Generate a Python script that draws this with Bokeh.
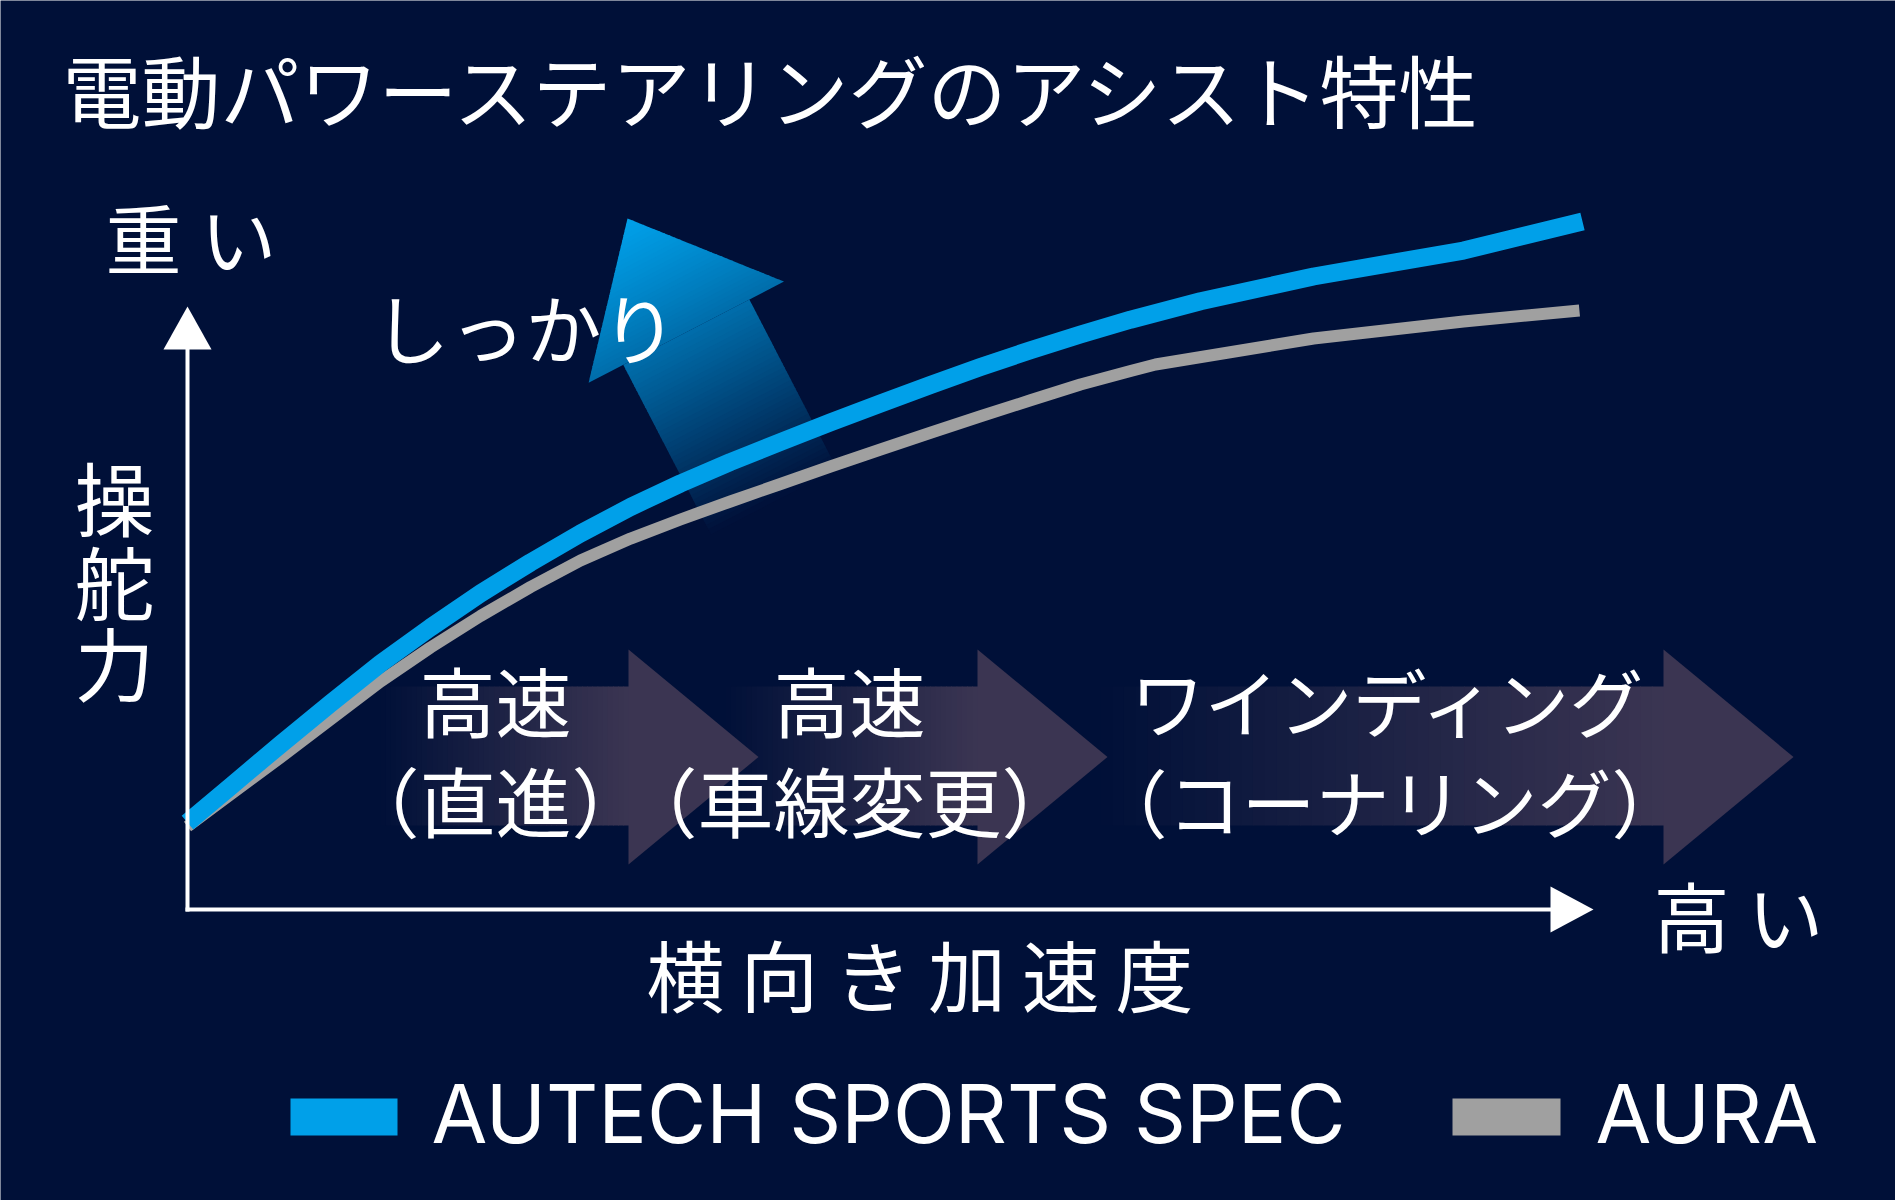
import numpy as np
from bokeh.plotting import figure
from bokeh.models import Range1d
from bokeh.core.properties import value
from bokeh.embed import file_html
from bokeh.resources import INLINE

# ---------------- data (x: lateral acceleration, y: steering force, 0-100 scale) -------------
autech_x = [0.0, 3.08, 6.67, 10.25, 13.84, 17.42, 21.0, 24.59, 28.17, 31.76, 35.34, 38.92,
            42.51, 46.09, 49.68, 53.26, 56.85, 60.43, 64.01, 67.6, 72.62, 80.72, 91.47, 100.0]
autech_y = [12.66, 17.90, 24.02, 29.99, 35.81, 41.05, 46.00, 50.51, 54.73, 58.59, 62.01, 65.14,
            68.05, 70.89, 73.65, 76.35, 78.97, 81.41, 83.70, 85.85, 88.54, 92.14, 95.92, 100.15]
aura_x = [0.0, 3.08, 6.67, 10.25, 13.84, 17.42, 21.0, 24.59, 28.17, 31.76, 35.34, 38.92,
          42.51, 46.09, 49.68, 53.26, 56.85, 60.43, 64.01, 67.6, 69.39, 80.72, 91.47, 99.78]
aura_y = [12.08, 16.74, 22.13, 27.66, 33.19, 38.14, 42.72, 46.94, 50.80, 54.00, 56.77, 59.39,
          61.94, 64.48, 66.96, 69.40, 71.79, 74.12, 76.42, 78.38, 79.33, 83.11, 85.59, 87.19]
series_names = ["AUTECH SPORTS SPEC", "AURA"]
zone_top = ["高速", "高速", "ワインディング"]
zone_bottom = ["（直進）", "（車線変更）", "（コーナリング）"]
title_text = "電動パワーステアリングのアシスト特性"
y_label = "操舵力"
x_label = "横向き加速度"
y_high = "重い"
x_high = "高い"
firm_label = "しっかり"

# ---------------- colours ----------------
BG = "#001038"
BLUE = "#00a0e9"
GREY = "#a0a0a0"
ARW = "#3b3552"
WHITE = "#ffffff"

# ---------------- page geometry (image pixel space -> data space) ----------------
W, H = 1895, 1200
OX, OY = 187.0, 909.0          # pixel position of the data origin
SX = (1582.0 - OX) / 100.0     # pixels per x unit
SY = (OY - 222.0) / 100.0      # pixels per y unit


def dx(px):
    return ((np.asarray(px, float) - OX) / SX).tolist()


def dy(py):
    return ((OY - np.asarray(py, float)) / SY).tolist()


def hex2rgb(h):
    h = h.lstrip("#")
    return np.array([int(h[i:i + 2], 16) for i in (0, 2, 4)], float)


def mix(c1, c2, t):
    r = hex2rgb(c1) * (1 - t) + hex2rgb(c2) * t
    return "#%02x%02x%02x" % tuple(int(round(v)) for v in r)


p = figure(width=W, height=H, output_backend="svg", toolbar_location=None, tools="",
           title=None, x_axis_type=None, y_axis_type=None, min_border=0,
           x_range=Range1d(dx(0.0), dx(W)),
           y_range=Range1d(dy(H), dy(0.0)),
           background_fill_color=BG, border_fill_color=BG, outline_line_color=None)

# ---------------- zone block arrows (gradient shafts, then heads) ----------------
zone_centers = [495, 849, 1389]
zone_font = [76, 76, 74]
zone_shaft_start = [380, 725, 1100]
zone_head_base = [628, 977, 1663]
HEAD_LEN = 130
SHAFT_TOP, SHAFT_BOT = 686, 825
HEAD_TOP, HEAD_BOT = 649, 864
TIP_Y = 756.5
NS = 48
for xs, xb in zip(zone_shaft_start, zone_head_base):
    edges = np.linspace(xs, xb, NS + 1)
    cols = [mix(BG, ARW, (i + 0.5) / NS) for i in range(NS)]
    p.quad(left=dx(edges[:-1]), right=dx(edges[1:] + 0.8),
           top=dy([SHAFT_TOP] * NS), bottom=dy([SHAFT_BOT] * NS),
           fill_color=cols, line_color=None)
p.patches(xs=[dx([xb, xb + HEAD_LEN, xb]) for xb in zone_head_base],
          ys=[dy([HEAD_TOP, TIP_Y, HEAD_BOT]) for _ in zone_head_base],
          fill_color=ARW, line_color=None)

# ---------------- "firm" gradient arrow ----------------
T = np.array([627.0, 218.0])
d = np.array([59.0, 114.0])
d = d / np.linalg.norm(d)
n = np.array([d[1], -d[0]])
L_HEAD, W_HEAD, W_SHAFT, L_SHAFT = 128.0, 110.0, 71.0, 190.0
L_TOT = L_HEAD + L_SHAFT


def half_w(u):
    return W_HEAD * u / L_HEAD if u <= L_HEAD else W_SHAFT


axs, ays, acols = [], [], []
for seg0, seg1, nseg in [(0.0, L_HEAD, 30), (L_HEAD, L_TOT, 40)]:
    e = np.linspace(seg0, seg1, nseg + 1)
    for i in range(nseg):
        u0 = e[i]
        if seg0 == 0.0:
            u1 = min(e[i + 1] + 1.0, seg1)
            w0, w1 = half_w(u0), half_w(u1)
        else:
            u1 = e[i + 1] + 1.0
            w0 = w1 = W_SHAFT
        pts = [T + u0 * d + w0 * n, T + u1 * d + w1 * n, T + u1 * d - w1 * n, T + u0 * d - w0 * n]
        axs.append(dx([q[0] for q in pts]))
        ays.append(dy([q[1] for q in pts]))
        t = min(1.0, (0.5 * (e[i] + e[i + 1])) / L_TOT)
        acols.append(mix(BLUE, BG, t ** 1.15))
p.patches(xs=axs, ys=ays, fill_color=acols, line_color=None)

# ---------------- data curves ----------------
p.line(aura_x, aura_y, line_color=GREY, line_width=12, line_cap="butt", line_join="round")
p.line(autech_x, autech_y, line_color=BLUE, line_width=18, line_cap="butt", line_join="round")

# ---------------- axes with arrow heads ----------------
p.segment(x0=dx([187, 185]), y0=dy([911, 909]), x1=dx([187, 1555]), y1=dy([345, 909]),
          line_color=WHITE, line_width=4)
p.patches(xs=[dx([187, 163, 211]), dx([1593, 1550, 1550])],
          ys=[dy([306, 349, 349]), dy([909, 886, 932])],
          fill_color=WHITE, line_color=None)

# ---------------- texts ----------------
JP = value("Noto Sans CJK JP")
JP_SHIFT = 0.48   # baseline correction (em)


def jtext(xs, ys, texts, size, align="left"):
    yb = [y - JP_SHIFT * size for y in ys]
    p.text(x=dx(xs), y=dy(yb), text=texts, text_font=JP, text_font_size=f"{size}px",
           text_color=WHITE, text_align=align, text_baseline="alphabetic")


jtext([62], [126], [title_text], 79)
jtext([143, 238], [272, 272], list(y_high), 76, "center")
jtext([1691, 1785], [950, 950], list(x_high), 76, "center")
jtext([685 + i * 93.8 for i in range(len(x_label))], [1010] * len(x_label), list(x_label), 78, "center")
jtext([114] * len(y_label), [533, 617, 698], list(y_label), 80, "center")
jtext([373], [362], [firm_label], 76)
for zc, zf, zt, zb in zip(zone_centers, zone_font, zone_top, zone_bottom):
    jtext([zc], [735], [zt], zf, "center")
    jtext([zc], [835], [zb], zf, "center")

# ---------------- legend ----------------
LEG_SIZE = 81
p.quad(left=dx([290, 1452]), right=dx([397, 1560]), top=dy([1098, 1098]), bottom=dy([1135, 1135]),
       fill_color=[BLUE, GREY], line_color=None)
p.text(x=dx([431, 1595]), y=dy([1143 - 0.36 * LEG_SIZE] * 2), text=series_names, text_font=value("Inter"),
       text_font_size=f"{LEG_SIZE}px", text_color=WHITE, text_align="left", text_baseline="alphabetic")

open("out.html", "w").write(file_html(p, INLINE))
